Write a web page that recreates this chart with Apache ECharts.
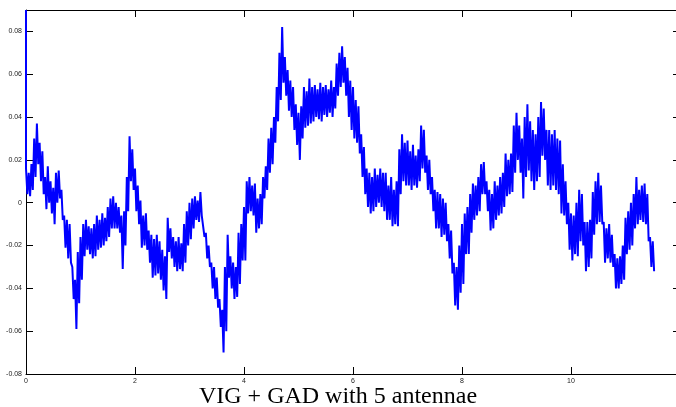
<!DOCTYPE html>
<html>
<head>
<meta charset="utf-8">
<script src="https://cdn.jsdelivr.net/npm/echarts@6/dist/echarts.min.js"></script>
<style>
  html, body { margin: 0; padding: 0; background: #fff; }
  #chart { width: 676px; height: 407px; }
</style>
</head>
<body>
<div id="chart"></div>
<script>
var step = 0.05
var upper = [
  0.016, 0.014, 0.018, 0.030, 0.037, 0.028, 0.024, 0.012, 0.017, 0.010,
  0.007, 0.014, 0.015, 0.006, -0.006, -0.008, -0.010, -0.030, -0.036, -0.023,
  -0.016, -0.010, -0.008, -0.011, -0.012, -0.010, -0.006, -0.008, -0.005, -0.007,
  -0.002, 0.002, 0.003, 0.000, -0.002, -0.006, -0.004, 0.012, 0.031, 0.025,
  0.016, 0.008, 0.001, -0.006, -0.005, -0.013, -0.015, -0.017, -0.015, -0.018,
  -0.022, -0.025, -0.007, -0.012, -0.016, -0.018, -0.016, -0.019, -0.010, -0.004,
  0.000, 0.002, 0.003, 0.001, 0.005, -0.006, -0.014, -0.020, -0.028, -0.030,
  -0.035, -0.045, -0.050, -0.030, -0.015, -0.025, -0.028, -0.030, -0.014, -0.010,
  -0.002, 0.010, 0.012, 0.008, 0.009, 0.002, 0.004, 0.012, 0.017, 0.030,
  0.035, 0.040, 0.054, 0.070, 0.082, 0.068, 0.062, 0.057, 0.054, 0.046,
  0.042, 0.045, 0.054, 0.052, 0.058, 0.054, 0.055, 0.053, 0.056, 0.054,
  0.055, 0.053, 0.057, 0.054, 0.065, 0.070, 0.073, 0.068, 0.063, 0.057,
  0.054, 0.048, 0.045, 0.032, 0.026, 0.016, 0.014, 0.012, 0.016, 0.013,
  0.016, 0.014, 0.014, 0.008, 0.012, 0.006, 0.010, 0.025, 0.032, 0.028,
  0.029, 0.024, 0.027, 0.022, 0.025, 0.036, 0.034, 0.022, 0.020, 0.012,
  0.006, 0.005, 0.004, 0.002, 0.000, -0.010, -0.013, -0.028, -0.030, -0.020,
  -0.010, -0.005, -0.002, 0.004, 0.009, 0.008, 0.012, 0.018, 0.019, 0.010,
  0.006, 0.004, 0.010, 0.008, 0.012, 0.014, 0.023, 0.020, 0.023, 0.036,
  0.042, 0.036, 0.030, 0.040, 0.046, 0.038, 0.034, 0.032, 0.040, 0.047,
  0.044, 0.034, 0.034, 0.032, 0.034, 0.030, 0.029, 0.018, 0.010, 0.000,
  -0.005, -0.006, 0.000, 0.006, 0.004, -0.009, -0.009, -0.008, 0.005, 0.010,
  0.014, 0.008, -0.009, -0.012, -0.010, -0.015, -0.024, -0.026, -0.025, -0.020,
  -0.007, -0.004, 0.000, 0.004, 0.012, 0.006, 0.008, 0.009, 0.004, -0.016,
  -0.018
]
var lower = [
  0.004, 0.003, 0.006, 0.012, 0.018, 0.010, 0.004, -0.003, 0.000, -0.005,
  -0.010, 0.000, 0.002, -0.008, -0.021, -0.026, -0.028, -0.045, -0.059, -0.047,
  -0.036, -0.025, -0.022, -0.024, -0.026, -0.025, -0.022, -0.021, -0.020, -0.018,
  -0.016, -0.012, -0.012, -0.012, -0.014, -0.031, -0.020, -0.004, 0.010, 0.006,
  -0.004, -0.010, -0.021, -0.020, -0.022, -0.028, -0.035, -0.034, -0.033, -0.036,
  -0.041, -0.045, -0.023, -0.026, -0.030, -0.032, -0.031, -0.032, -0.028, -0.020,
  -0.017, -0.012, -0.008, -0.009, -0.006, -0.016, -0.026, -0.030, -0.040, -0.045,
  -0.049, -0.058, -0.070, -0.060, -0.035, -0.040, -0.045, -0.044, -0.038, -0.027,
  -0.027, -0.005, -0.004, -0.006, -0.014, -0.012, -0.010, 0.002, 0.006, 0.014,
  0.018, 0.028, 0.038, 0.048, 0.056, 0.050, 0.043, 0.040, 0.034, 0.027,
  0.020, 0.030, 0.035, 0.036, 0.037, 0.038, 0.040, 0.039, 0.038, 0.041,
  0.040, 0.042, 0.040, 0.044, 0.050, 0.054, 0.056, 0.050, 0.040, 0.034,
  0.030, 0.028, 0.023, 0.012, 0.004, -0.002, -0.005, -0.004, -0.002, 0.000,
  -0.002, -0.004, -0.008, -0.008, -0.011, -0.010, -0.011, 0.004, 0.010, 0.008,
  0.008, 0.006, 0.008, 0.007, 0.010, 0.016, 0.014, 0.006, 0.004, -0.004,
  -0.012, -0.012, -0.016, -0.015, -0.018, -0.026, -0.033, -0.048, -0.050, -0.042,
  -0.038, -0.024, -0.024, -0.014, -0.008, -0.006, -0.004, 0.004, 0.004, -0.004,
  -0.013, -0.012, -0.008, -0.006, -0.005, -0.002, 0.003, 0.004, 0.005, 0.014,
  0.020, 0.014, 0.002, 0.012, 0.015, 0.010, 0.006, 0.010, 0.012, 0.022,
  0.020, 0.008, 0.006, 0.008, 0.006, 0.004, -0.005, -0.006, -0.010, -0.022,
  -0.027, -0.024, -0.025, -0.018, -0.020, -0.032, -0.030, -0.026, -0.015, -0.010,
  -0.009, -0.010, -0.028, -0.026, -0.028, -0.030, -0.040, -0.040, -0.038, -0.036,
  -0.024, -0.022, -0.020, -0.012, -0.010, -0.008, -0.009, -0.010, -0.018, -0.030,
  -0.032
]
var leadIn = [0.09]   // the trace starts with a jump down the left edge
var xTicks = [0, 2, 4, 6, 8, 10, 12]
var yTicks = [-0.08, -0.06, -0.04, -0.02, 0, 0.02, 0.04, 0.06, 0.08]
var titleText = 'VIG + GAD with 5 antennae'

var trace = [[0, leadIn[0]]]
for (var i = 0; i < upper.length; i++) {
  trace.push([+(i * step).toFixed(3), upper[i]])
  trace.push([+(i * step + step / 2).toFixed(3), lower[i]])
}

var chart = echarts.init(document.getElementById('chart'), null, { renderer: 'canvas' })

var tickFont = { fontFamily: 'Liberation Sans, Arial, sans-serif', fontSize: 7, color: '#222' }

function yLabel(v) {
  if (Math.abs(v) < 1e-9) return '0'
  return v.toFixed(2)
}

function xAxisOf(pos, labels) {
  return {
    type: 'value', min: xTicks[0], max: xTicks[xTicks.length - 1], interval: 2,
    position: pos,
    axisLine: { onZero: false, lineStyle: { color: '#000', width: 1 } },
    axisTick: { inside: true, length: 7, lineStyle: { color: '#000' } },
    axisLabel: labels ? Object.assign({ margin: 4 }, tickFont) : { show: false },
    splitLine: { show: false }
  }
}

function yAxisOf(pos, labels) {
  return {
    type: 'value', min: yTicks[0], max: 0.09, interval: 0.02,
    position: pos,
    axisLine: { show: true, onZero: false, lineStyle: { color: '#000', width: 1 } },
    axisTick: { show: true, inside: true, length: 7, lineStyle: { color: '#000' } },
    axisLabel: labels ? Object.assign({ margin: 4, showMaxLabel: false, formatter: yLabel }, tickFont) : { show: false },
    splitLine: { show: false }
  }
}

chart.setOption({
  animation: false,
  title: {
    text: titleText,
    left: 'center',
    top: 380,
    textStyle: {
      fontFamily: 'Liberation Serif, Times New Roman, serif',
      fontWeight: 'normal',
      fontSize: 24,
      color: '#000'
    }
  },
  // the right edge of the axes box falls just outside the picture
  grid: { left: 26, top: 10, width: 654, height: 364, containLabel: false, outerBoundsMode: 'none' },
  xAxis: [xAxisOf('bottom', true), xAxisOf('top', false)],
  yAxis: [yAxisOf('left', true), yAxisOf('right', false)],
  series: [
    {
      type: 'line',
      data: trace,
      showSymbol: false,
      symbol: 'none',
      lineStyle: { color: '#0000ff', width: 2 },
      z: 1
    }
  ]
})
</script>
</body>
</html>
